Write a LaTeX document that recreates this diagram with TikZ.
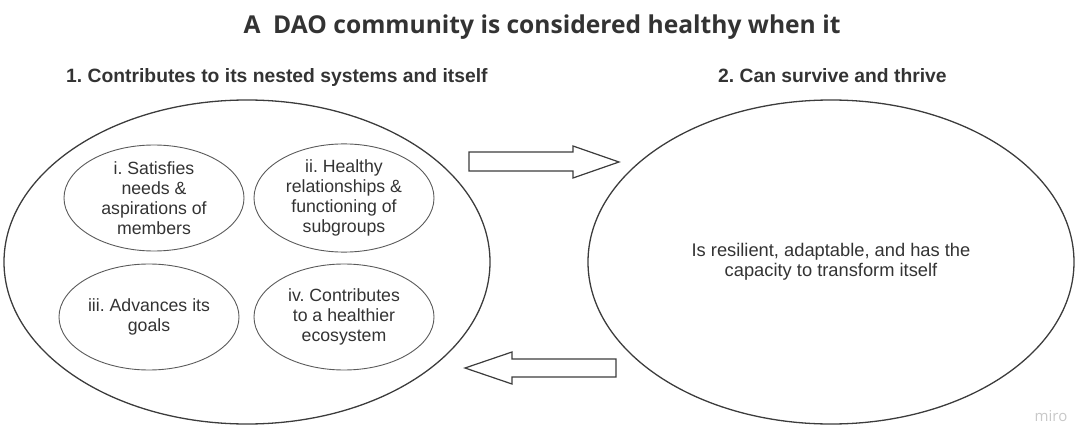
\documentclass[tikz,border=0pt]{standalone}
\usepackage{fontspec}
\setmainfont{Liberation Sans}
\newfontfamily\titlefont{Open Sans}
\usetikzlibrary{shapes.geometric}
\definecolor{ink}{RGB}{51,51,51}
\definecolor{edge}{RGB}{60,60,60}
\definecolor{softedge}{RGB}{90,90,90}
\definecolor{wm}{RGB}{200,200,200}
\frenchspacing
\begin{document}
\begin{tikzpicture}[x=1pt,y=-1pt,
  bigell/.style={ellipse, draw=edge, line width=1.3pt, minimum width=486pt, minimum height=324pt, inner sep=0pt},
  smallell/.style={ellipse, draw=softedge, line width=0.9pt, minimum width=180pt, minimum height=106pt, inner sep=0pt,
     text=ink, align=center, font=\fontsize{17.7}{20}\selectfont},
  blockarrow/.style={draw=edge, line width=1.2pt, line join=miter, fill=white},
  subtitle/.style={anchor=base west, text=ink, font=\bfseries\fontsize{19.3}{22}\selectfont, inner sep=0pt}
]
\useasboundingbox (0,0) rectangle (1080,444);

\node[anchor=base, inner sep=0pt, text=ink, font=\titlefont\bfseries\fontsize{24.6}{28}\selectfont] (title) at (542,34) {A\ \ DAO community is considered healthy when it};

\node[subtitle] (sub1) at (66,82.5) {1. Contributes to its nested systems and itself};
\node[subtitle] (sub2) at (718,82.5) {2. Can survive and thrive};

\node[bigell] (left) at (247,262) {};
\node[bigell, text=ink, align=center, font=\fontsize{18.3}{20.5}\selectfont] (right) at (831,262) {Is resilient, adaptable, and has the\\capacity to transform itself};

\node[smallell] (s1) at (154,198) {i. Satisfies\\needs \&\\aspirations of\\members};
\node[smallell] (s2) at (344,198) {ii. Healthy\\relationships \&\\functioning of\\subgroups};
\node[smallell] (s3) at (149,317) {iii. Advances its\\goals};
\node[smallell] (s4) at (344,317) {iv. Contributes\\to a healthier\\ecosystem};

% block arrow left -> right
\coordinate (a1) at (469,152);
\draw[blockarrow] (a1) -- (573,152) -- (573,146) -- (619,162) -- (573,178) -- (573,171) -- (469,171) -- cycle;
% block arrow right -> left
\coordinate (b1) at (616,359);
\draw[blockarrow] (b1) -- (512,359) -- (512,352) -- (465,368) -- (512,384) -- (512,377) -- (616,377) -- cycle;

\node[anchor=base, text=wm, inner sep=0pt, font=\titlefont\fontsize{15}{17}\selectfont] (miro) at (1051,421) {miro};
\end{tikzpicture}
\end{document}
